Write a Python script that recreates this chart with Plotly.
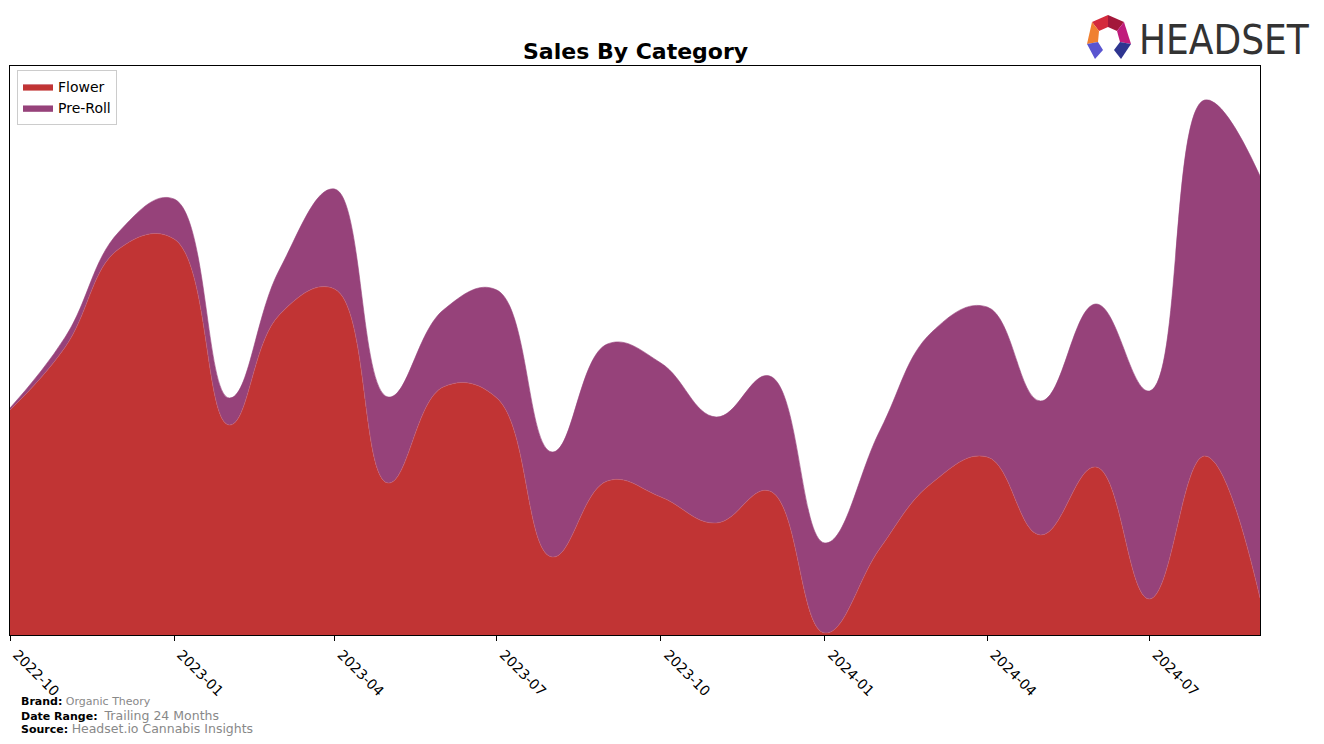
import plotly.graph_objects as go

# ---- data (monthly, arbitrary units) ----
months = ["2022-10-01", "2022-11-01", "2022-12-01", "2023-01-01", "2023-02-01", "2023-03-01",
          "2023-04-01", "2023-05-01", "2023-06-01", "2023-07-01", "2023-08-01", "2023-09-01",
          "2023-10-01", "2023-11-01", "2023-12-01", "2024-01-01", "2024-02-01", "2024-03-01",
          "2024-04-01", "2024-05-01", "2024-06-01", "2024-07-01", "2024-08-01", "2024-09-01"]
flower = [225, 288, 386, 396, 210, 320, 346, 152, 248, 237, 78, 154,
          138, 112, 144, 2, 87, 152, 178, 100, 168, 36, 179, 37]
pre_roll = [2, 10, 17, 40, 27, 45, 100, 86, 77, 108, 105, 137,
            134, 106, 115, 90, 118, 151, 150, 134, 163, 208, 356, 422]
tick_vals = ["2022-10-01", "2023-01-01", "2023-04-01", "2023-07-01", "2023-10-01",
             "2024-01-01", "2024-04-01", "2024-07-01"]
tick_text = ["2022-10", "2023-01", "2023-04", "2023-07", "2023-10", "2024-01", "2024-04", "2024-07"]

FLOWER_C = "#c13434"
PREROLL_C = "#96427a"

fig = go.Figure()
fig.add_trace(go.Scatter(x=months, y=flower, name="Flower", mode="lines",
                         stackgroup="s", line=dict(shape="spline", smoothing=1.2, width=0.6, color="#c65a6a"),
                         fillcolor=FLOWER_C))
fig.add_trace(go.Scatter(x=months, y=pre_roll, name="Pre-Roll", mode="lines",
                         stackgroup="s", line=dict(shape="spline", smoothing=1.2, width=0.6, color=PREROLL_C),
                         fillcolor=PREROLL_C))

W, H = 1324, 744
L, R, T, B = 10, 1260, 66, 635


def px(x):
    return (x - L) / (R - L)


def py(y):
    return (B - y) / (B - T)


def poly(pts, color):
    d = "M " + " L ".join(f"{px(a):.5f},{py(b):.5f}" for a, b in pts) + " Z"
    return dict(type="path", xref="paper", yref="paper", path=d, fillcolor=color,
                line=dict(width=0), layer="above")


shapes = [
    poly([(1092, 22), (1108, 15), (1108, 27), (1099, 31)], "#d42a3c"),
    poly([(1108, 15), (1124, 22), (1117, 31), (1108, 27)], "#a3173a"),
    poly([(1092, 22), (1099, 31), (1098, 42), (1087, 44)], "#f08030"),
    poly([(1124, 22), (1131, 44), (1120, 42), (1117, 31)], "#c01c7c"),
    poly([(1087, 44), (1098, 42), (1103, 50), (1095, 59)], "#5a55d0"),
    poly([(1131, 44), (1120, 42), (1114, 50), (1121, 59)], "#2e3590"),
]

annotations = [
    dict(text="<b>Sales By Category</b>", x=0.5, y=py(51), xref="paper", yref="paper",
         showarrow=False, font=dict(family="DejaVu Sans", size=22, color="black"),
         xanchor="center", yanchor="middle"),
    dict(text="HEADSET", x=px(1137), y=py(40), xref="paper", yref="paper", showarrow=False,
         font=dict(family="DejaVu Sans Condensed, sans-serif", size=40, color="#333333"),
         xanchor="left", yanchor="middle"),
    dict(text='<b>Brand:</b> <span style="color:#888888;font-size:11px">Organic Theory</span>',
         x=px(19), y=py(701), xref="paper", yref="paper", showarrow=False,
         font=dict(family="DejaVu Sans", size=11, color="black"), xanchor="left", yanchor="middle"),
    dict(text='<b>Date Range:</b>  <span style="color:#888888;font-size:12.5px">Trailing 24 Months</span>',
         x=px(19), y=py(715), xref="paper", yref="paper", showarrow=False,
         font=dict(family="DejaVu Sans", size=11, color="black"), xanchor="left", yanchor="middle"),
    dict(text='<b>Source:</b> <span style="color:#888888;font-size:12.5px">Headset.io Cannabis Insights</span>',
         x=px(19), y=py(728), xref="paper", yref="paper", showarrow=False,
         font=dict(family="DejaVu Sans", size=11, color="black"), xanchor="left", yanchor="middle"),
]

fig.update_layout(
    width=W, height=H,
    margin=dict(l=L, r=W - R, t=T, b=H - B, pad=0, autoexpand=False),
    paper_bgcolor="white", plot_bgcolor="white",
    font=dict(family="DejaVu Sans", size=13, color="black"),
    showlegend=True,
    legend=dict(x=px(17), y=py(70), xanchor="left", yanchor="top", bordercolor="#cccccc",
                borderwidth=1, bgcolor="rgba(255,255,255,0.8)", traceorder="normal",
                font=dict(size=14, family="DejaVu Sans")),
    shapes=shapes,
    annotations=annotations,
)
fig.update_xaxes(type="date", range=["2022-10-01", "2024-09-01"], tickvals=tick_vals, ticktext=tick_text,
                 tickangle=45, ticks="outside", ticklen=5, tickcolor="black", showgrid=False,
                 showline=True, linecolor="black", linewidth=1, mirror=True, zeroline=False,
                 automargin=False, ticklabelshift=7, tickfont=dict(size=14, family="DejaVu Sans"))
fig.update_yaxes(range=[0, 569], showticklabels=False, ticks="", showgrid=False, showline=True,
                 linecolor="black", linewidth=1, mirror=True, zeroline=False, automargin=False)

fig.write_html("out.html", config={"displayModeBar": False},
               post_script="document.body.style.margin='0';document.body.style.overflow='hidden';")
